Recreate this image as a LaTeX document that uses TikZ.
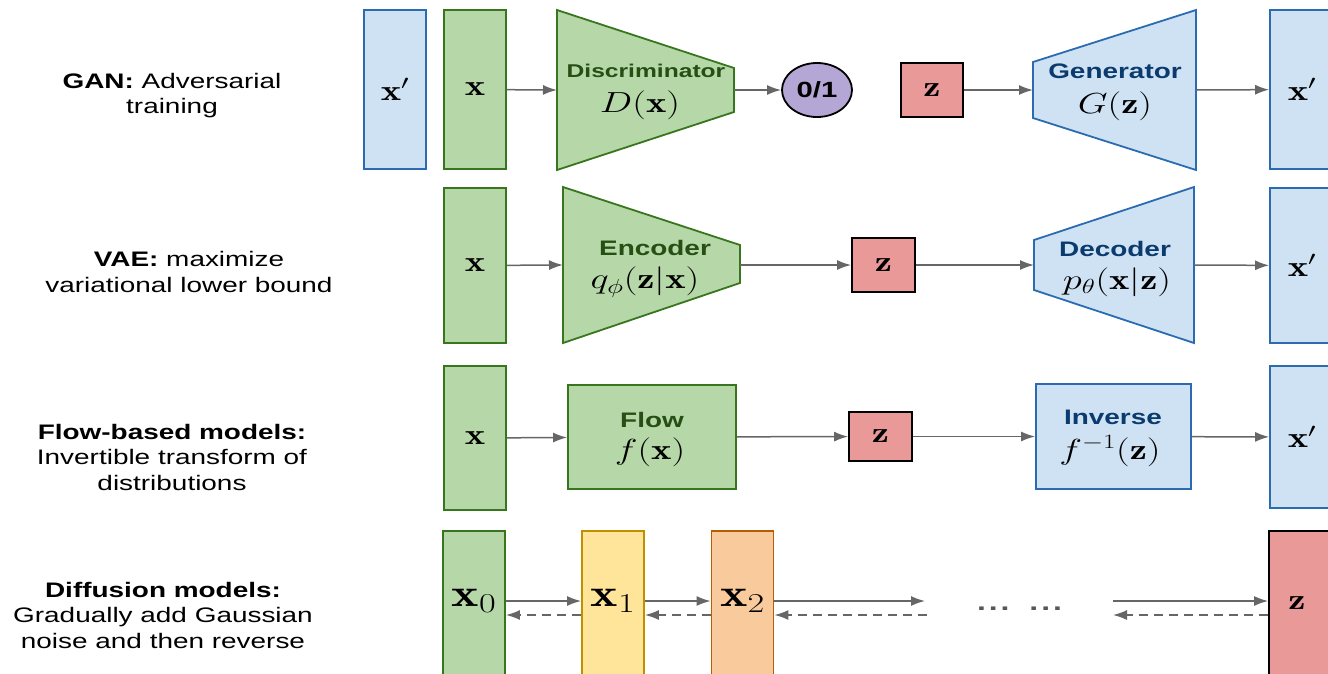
\RequirePackage{fix-cm}
\documentclass[tikz,border=0pt]{standalone}
\usepackage{graphicx}
\usepackage{fontspec}
\newfontfamily\arial{Liberation Sans}
\usetikzlibrary{arrows.meta,shapes.geometric}
\definecolor{gfill}{HTML}{B6D7A8}
\definecolor{gline}{HTML}{38761D}
\definecolor{gtext}{HTML}{274E13}
\definecolor{bfill}{HTML}{CFE2F3}
\definecolor{bline}{HTML}{2B6CB0}
\definecolor{btext}{HTML}{0B3B6E}
\definecolor{rfill}{HTML}{EA9999}
\definecolor{pfill}{HTML}{B4A7D6}
\definecolor{yfill}{HTML}{FFE599}
\definecolor{yline}{HTML}{BF9000}
\definecolor{ofill}{HTML}{F9CB9C}
\definecolor{oline}{HTML}{B45F06}
\definecolor{arr}{HTML}{666666}
\newcommand{\sx}[1]{\scalebox{1.33}[1]{#1}}
\newcommand{\mth}[1]{\fontsize{29}{33}\selectfont\sx{$#1$}}
\newcommand{\dmth}[1]{\fontsize{39}{43}\selectfont\sx{$#1$}}
\tikzset{
  base/.style={line width=1.8pt, inner sep=0pt},
  gbox/.style={base, draw=gline, fill=gfill},
  bbox/.style={base, draw=bline, fill=bfill},
  rbox/.style={base, draw=black, fill=rfill},
  ybox/.style={base, draw=yline, fill=yfill},
  obox/.style={base, draw=oline, fill=ofill},
  gtrap/.style={line width=1.8pt, line join=miter, draw=gline, fill=gfill},
  btrap/.style={line width=1.8pt, line join=miter, draw=bline, fill=bfill},
  conn/.style={draw=arr, line width=1.5pt, -{Latex[length=14pt,width=10pt]}},
  back/.style={conn, dash pattern=on 9pt off 6pt},
  mlab/.style={inner sep=0pt},
  gtitle/.style={inner sep=0pt, text=gtext, font=\arial\bfseries\fontsize{21}{25}\selectfont},
  btitle/.style={inner sep=0pt, text=btext, font=\arial\bfseries\fontsize{21}{25}\selectfont},
  side/.style={align=center, font=\arial\fontsize{21}{25.5}\selectfont},
}
\begin{document}
\begin{tikzpicture}[x=1pt, y=-1pt]
\useasboundingbox (0,0) rectangle (1328,673);

% ---------- side labels ----------
\node[side] (lgan) at (172,95.5) {\sx{\textbf{GAN:} Adversarial}\\\sx{training}};
\node[side] (lvae) at (189,272) {\sx{\textbf{VAE:} maximize}\\\sx{variational lower bound}};
\node[side] (lflow) at (172,457) {\sx{\textbf{Flow-based models:}}\\\sx{Invertible transform of}\\\sx{distributions}};
\node[side] (ldiff) at (163,615) {\sx{\textbf{Diffusion models:}}\\\sx{Gradually add Gaussian}\\\sx{noise and then reverse}};

% ---------- GAN ----------
\node[bbox, minimum width=62, minimum height=159] (xpa) at (395,89.5) {\mth{\mathbf{x}'}};
\node[gbox, minimum width=62, minimum height=159] (xa) at (475,89.5) {\mth{\mathbf{x}}};
\filldraw[gtrap] (557,10) -- (734,68) -- (734,112) -- (557,170) -- cycle;
\coordinate (Din) at (557,90);
\coordinate (Dout) at (734,90);
\node[gtitle, font=\arial\bfseries\fontsize{18.5}{22}\selectfont] (Dt) at (646,71) {\sx{Discriminator}};
\node[mlab] (Dm) at (640,105) {\mth{D(\mathbf{x})}};
\node[ellipse, draw=black, fill=pfill, line width=1.8pt, minimum width=70, minimum height=54, inner sep=0pt] (o1) at (817,90) {\arial\bfseries\fontsize{22}{26}\selectfont\sx{0/1}};
\node[rbox, minimum width=62, minimum height=54] (za) at (932,90) {\mth{\mathbf{z}}};
\filldraw[btrap] (1033,62) -- (1196,10) -- (1196,170) -- (1033,118) -- cycle;
\coordinate (Gin) at (1033,90);
\coordinate (Gout) at (1196,90);
\node[btitle] (Gt) at (1115,71) {\sx{Generator}};
\node[mlab] (Gm) at (1115,106) {\mth{G(\mathbf{z})}};
\node[bbox, minimum width=64, minimum height=159] (xpb) at (1302,89.5) {\mth{\mathbf{x}'}};

\draw[conn] (xa) -- (Din);
\draw[conn] (Dout) -- (o1);
\draw[conn] (za) -- (Gin);
\draw[conn] (Gout) -- (xpb);

% ---------- VAE ----------
\node[gbox, minimum width=62, minimum height=155] (xb) at (475,265.5) {\mth{\mathbf{x}}};
\filldraw[gtrap] (563,187) -- (740,245) -- (740,283) -- (563,343) -- cycle;
\coordinate (Ein) at (563,265);
\coordinate (Eout) at (740,265);
\node[gtitle] (Et) at (655,248) {\sx{Encoder}};
\node[mlab] (Em) at (645,282) {\mth{q_\phi(\mathbf{z}|\mathbf{x})}};
\node[rbox, minimum width=63, minimum height=54] (zb) at (883.5,265) {\mth{\mathbf{z}}};
\filldraw[btrap] (1034,240) -- (1194,187) -- (1194,343) -- (1034,290) -- cycle;
\coordinate (Cin) at (1034,265);
\coordinate (Cout) at (1194,265);
\node[btitle] (Ct) at (1115,249) {\sx{Decoder}};
\node[mlab] (Cm) at (1117,282) {\mth{p_\theta(\mathbf{x}|\mathbf{z})}};
\node[bbox, minimum width=64, minimum height=155] (xpc) at (1302,265.5) {\mth{\mathbf{x}'}};

\draw[conn] (xb) -- (Ein);
\draw[conn] (Eout) -- (zb);
\draw[conn] (zb) -- (Cin);
\draw[conn] (Cout) -- (xpc);

% ---------- Flow ----------
\node[gbox, minimum width=62, minimum height=144] (xc) at (475,438) {\mth{\mathbf{x}}};
\node[gbox, minimum width=168, minimum height=104] (fl) at (652,437) {};
\node[gtitle] (Ft) at (652,420) {\sx{Flow}};
\node[mlab] (Fm) at (650,452) {\mth{f(\mathbf{x})}};
\node[rbox, minimum width=63, minimum height=49] (zc) at (880.5,436.5) {\mth{\mathbf{z}}};
\node[bbox, minimum width=155, minimum height=105] (inv) at (1113.5,436.5) {};
\node[btitle] (It) at (1113,417) {\sx{Inverse}};
\node[mlab] (Im) at (1110,451) {\mth{f^{-1}(\mathbf{z})}};
\node[bbox, minimum width=64, minimum height=142] (xpd) at (1302,437) {\mth{\mathbf{x}'}};

\draw[conn] (xc) -- (fl);
\draw[conn] (fl) -- (zc);
\draw[conn] (zc) -- (inv);
\draw[conn] (inv) -- (xpd);

% ---------- Diffusion ----------
\node[gbox, minimum width=62, minimum height=160] (x0) at (474,611) {};
\node[mlab] (x0t) at (474,601) {\dmth{\mathbf{x}_0}};
\node[ybox, minimum width=62, minimum height=160] (x1) at (613,611) {};
\node[mlab] (x1t) at (613,601) {\dmth{\mathbf{x}_1}};
\node[obox, minimum width=62, minimum height=160] (x2) at (742.5,611) {};
\node[mlab] (x2t) at (742.5,601) {\dmth{\mathbf{x}_2}};
\node[rbox, minimum width=64, minimum height=160] (zd) at (1301,611) {};
\node[mlab] (zdt) at (1297,603) {\mth{\mathbf{z}}};
\node[inner sep=0pt, text=arr!85!black, font=\arial\bfseries\fontsize{24}{28}\selectfont] (dots) at (1019.5,609) {\sx{.\hspace{2.2pt}.\hspace{2.2pt}.\hspace{15pt}.\hspace{2.2pt}.\hspace{2.2pt}.}};

\coordinate (yf) at (0,601);
\coordinate (yb) at (0,615);
\coordinate (fe) at (925,601);
\coordinate (be) at (927,615);
\coordinate (fs) at (1113,601);
\coordinate (bs) at (1113,615);

\draw[conn] (x0.east |- yf) -- (x1.west |- yf);
\draw[conn] (x1.east |- yf) -- (x2.west |- yf);
\draw[conn] (x2.east |- yf) -- (fe);
\draw[conn] (fs) -- (zd.west |- yf);
\draw[back] (x1.west |- yb) -- (x0.east |- yb);
\draw[back] (x2.west |- yb) -- (x1.east |- yb);
\draw[back] (be) -- (x2.east |- yb);
\draw[back] (zd.west |- yb) -- (bs);
\end{tikzpicture}
\end{document}
